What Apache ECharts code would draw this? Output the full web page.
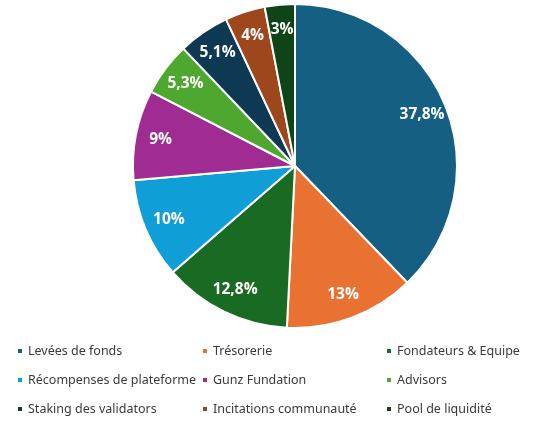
<!DOCTYPE html>
<html>
<head>
<meta charset="utf-8">
<script src="https://cdn.jsdelivr.net/npm/echarts@6/dist/echarts.min.js"></script>
<style>
  html, body { margin: 0; padding: 0; background: #fff; }
  #chart { width: 552px; height: 427px; }
</style>
</head>
<body>
<div id="chart"></div>
<script>
// Répartition des tokens
const categories = [
    'Levées de fonds', 'Trésorerie', 'Fondateurs & Equipe',
    'Récompenses de plateforme', 'Gunz Fundation', 'Advisors',
    'Staking des validators', 'Incitations communauté', 'Pool de liquidité'
];
const values = [37.8, 13, 12.8, 10, 9, 5.3, 5.1, 4, 3];
const valueLabels = ['37,8%', '13%', '12,8%', '10%', '9%', '5,3%', '5,1%', '4%', '3%'];
const colors = [
    '#156082', '#E97132', '#196B24', '#0F9ED5', '#A02B93',
    '#4EA72E', '#0D3A52', '#9E461C', '#0F4419'
];

const legendColumns = [
    [categories[0], categories[3], categories[6]],
    [categories[1], categories[4], categories[7]],
    [categories[2], categories[5], categories[8]]
];
const legendLefts = [16, 201, 385];

const chart = echarts.init(document.getElementById('chart'), null, { renderer: 'canvas' });

const pieData = categories.map((name, i) => ({
    name: name,
    value: values[i],
    itemStyle: { color: colors[i] }
}));

const labelData = categories.map((name, i) => ({
    name: name,
    value: values[i],
    label: { formatter: valueLabels[i] }
}));

const option = {
    animation: false,
    legend: legendColumns.map((col, i) => ({
        data: col,
        orient: 'vertical',
        left: legendLefts[i],
        top: 344,
        padding: 0,
        itemWidth: 6,
        itemHeight: 6,
        itemGap: 15,
        icon: 'rect',
        selectedMode: false,
        textStyle: {
            fontFamily: 'Noto Sans',
            fontSize: 12.5,
            color: '#3a3a3a',
            lineHeight: 14
        }
    })),
    series: [
        {
            type: 'pie',
            center: [295, 166],
            radius: [0, 162],
            startAngle: 90,
            clockwise: true,
            data: pieData,
            itemStyle: { borderColor: '#fff', borderWidth: 2 },
            label: { show: false },
            labelLine: { show: false },
            silent: true
        },
        {
            // couche transparente pour placer les étiquettes vers l'extérieur
            type: 'pie',
            center: [295, 166],
            radius: [106, 162],
            startAngle: 90,
            clockwise: true,
            data: labelData,
            itemStyle: { color: 'rgba(0,0,0,0)', borderWidth: 0 },
            label: {
                show: true,
                position: 'inside',
                color: '#fff',
                fontFamily: 'Open Sans',
                fontWeight: 'bold',
                fontSize: 15.5
            },
            labelLine: { show: false },
            emphasis: { disabled: true },
            silent: true
        }
    ]
};

chart.setOption(option);
</script>
</body>
</html>
